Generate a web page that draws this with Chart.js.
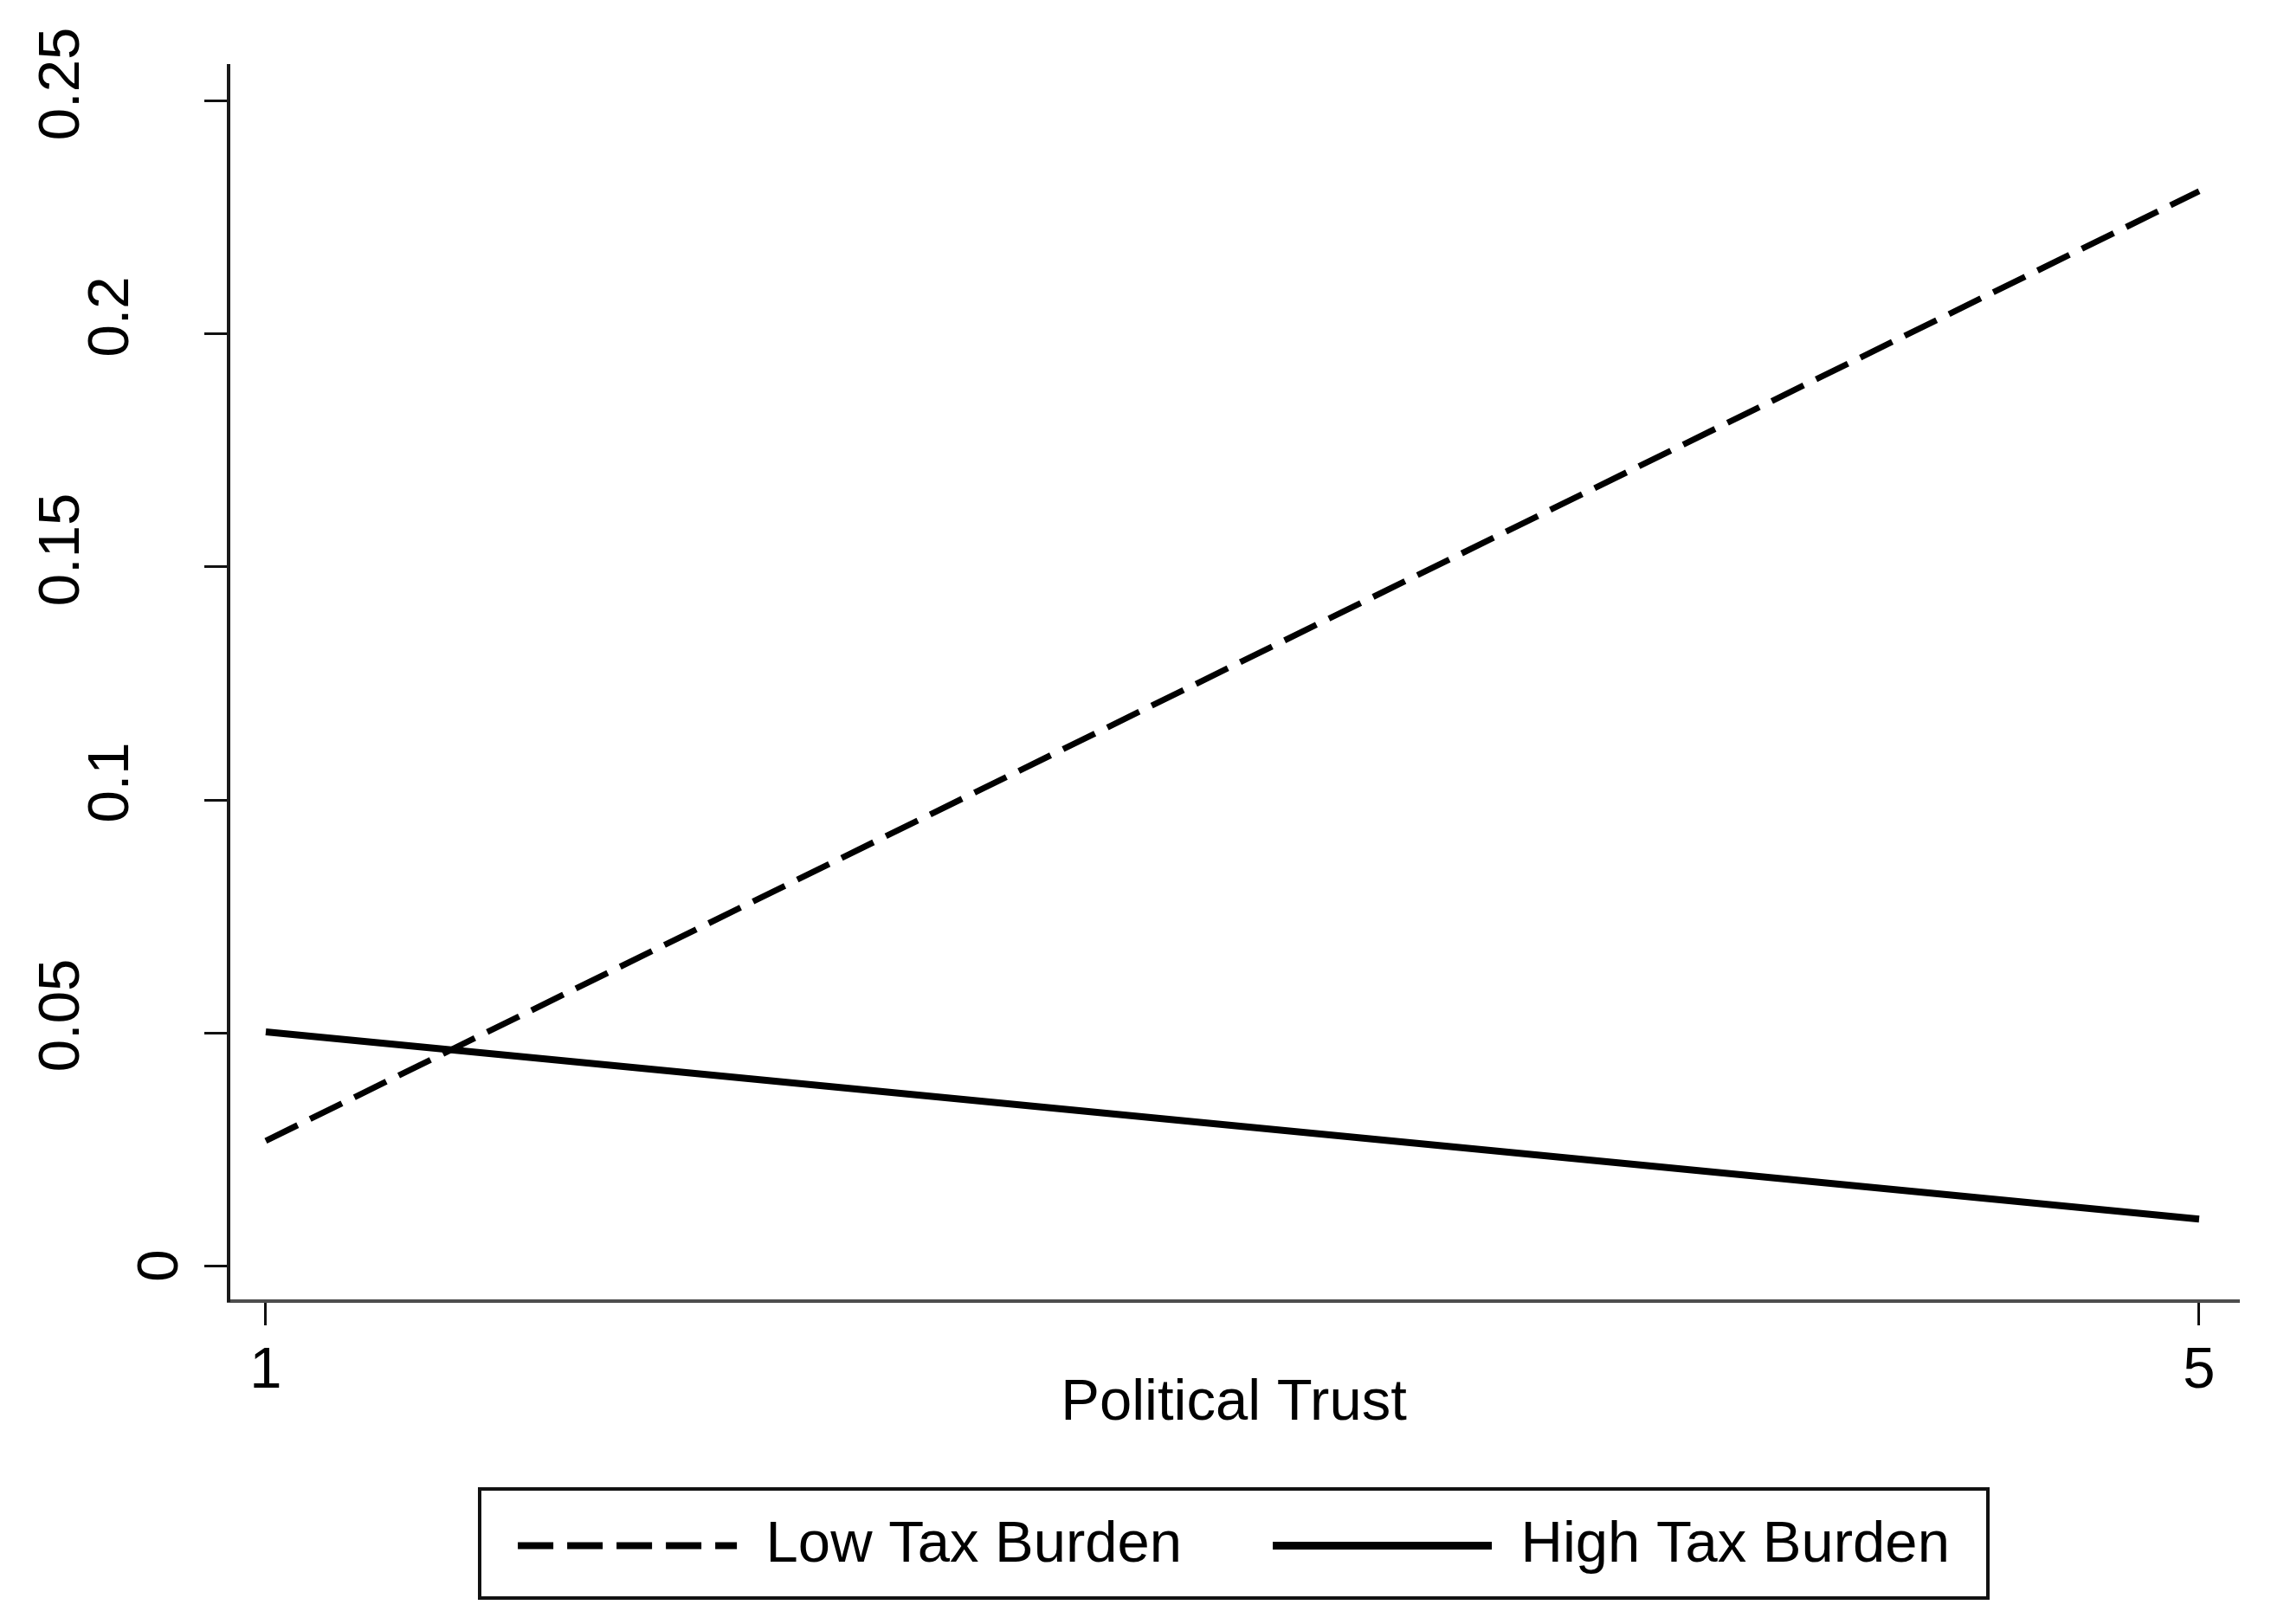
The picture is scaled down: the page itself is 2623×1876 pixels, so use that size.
<!DOCTYPE html>
<html>
<head>
<meta charset="utf-8">
<script src="https://cdn.jsdelivr.net/npm/chart.js@4.4.0/dist/chart.umd.min.js"></script>
<style>
  body { margin: 0; background: #fff; }
  canvas { display: block; }
</style>
</head>
<body>
<canvas id="myChart" width="2623" height="1876"></canvas>
<script>
 const trustLevels = [1, 5];
 const lowTaxBurden = [0.0268, 0.2307];
 const highTaxBurden = [0.0502, 0.0100];
 const xTickValues = [1, 5];
 const yTickValues = [0, 0.05, 0.1, 0.15, 0.2, 0.25];
 const seriesNames = ['Low Tax Burden', 'High Tax Burden'];

 const FONT = '"Liberation Sans", Arial, sans-serif';

 // stata puts the rotated y labels at odd offsets, shorter ones closer to the axis
 const yLabelPlugin = {
   id: 'yLabels',
   afterDraw(chart) {
     const scale = chart.scales.y;
     const ctx = chart.ctx;
     ctx.save();
     ctx.font = '67px ' + FONT;
     ctx.fillStyle = '#000';
     ctx.textAlign = 'center';
     ctx.textBaseline = 'middle';
     yTickValues.forEach(v => {
       const label = String(v);
       const py = scale.getPixelForValue(v);
       const cx = 187 - 57 * Math.max(label.length - 2, 0);
       const cy = py - (label.length > 1 ? 20 : 0);
       ctx.save();
       ctx.translate(cx, cy);
       ctx.rotate(-Math.PI / 2);
       ctx.fillText(label, 0, 0);
       ctx.restore();
     });
     ctx.restore();
   }
 };

 // frame around the legend
 const legendBoxPlugin = {
   id: 'legendBox',
   afterDraw(chart) {
     const lg = chart.legend;
     const ctx = chart.ctx;
     const cx = (lg.left + lg.right) / 2;
     ctx.save();
     ctx.strokeStyle = '#111';
     ctx.lineWidth = 4;
     ctx.strokeRect(cx - 871, lg.top + 73, 1742, 126);
     ctx.restore();
   }
 };

 const ctx = document.getElementById('myChart').getContext('2d');
 const myChart = new Chart(ctx, {
   type: 'line',
   data: {
     datasets: [{
       label: seriesNames[0],
       data: trustLevels.map((x, i) => ({x: x, y: lowTaxBurden[i]})),
       borderColor: '#000',
       borderWidth: 7,
       borderDash: [41, 16],
       borderCapStyle: 'butt',
       pointRadius: 0,
       fill: false
     }, {
       label: seriesNames[1],
       data: trustLevels.map((x, i) => ({x: x, y: highTaxBurden[i]})),
       borderColor: '#000',
       borderWidth: 8,
       borderCapStyle: 'butt',
       pointRadius: 0,
       fill: false
     }]
   },
   options: {
     responsive: false,
     animation: false,
     devicePixelRatio: 1,
     layout: {
       padding: {left: 0, right: 37, top: 76, bottom: 47}
     },
     scales: {
       x: {
         type: 'linear',
         min: 0.923,
         max: 5.0824,
         afterBuildTicks: (scale) => { scale.ticks = xTickValues.map(v => ({value: v})); },
         afterFit: (scale) => { scale.height = 144; },
         grid: {
           drawOnChartArea: false,
           drawTicks: true,
           tickLength: 28,
           tickWidth: 3,
           tickColor: '#111'
         },
         border: {display: true, color: '#4d4d4d', width: 4},
         ticks: {
           color: '#000',
           padding: 20,
           maxRotation: 0,
           font: {family: FONT, size: 67, lineHeight: 1},
           callback: (v) => String(v)
         },
         title: {
           display: true,
           text: 'Political Trust',
           color: '#000',
           padding: 0,
           font: {family: FONT, size: 67, lineHeight: 0.75}
         }
       },
       y: {
         type: 'linear',
         min: -0.00762,
         max: 0.25762,
         afterBuildTicks: (scale) => { scale.ticks = yTickValues.map(v => ({value: v})); },
         afterFit: (scale) => { scale.width = 264; },
         grid: {
           drawOnChartArea: false,
           drawTicks: true,
           tickLength: 28,
           tickWidth: 3,
           tickColor: '#111'
         },
         border: {display: true, color: '#1a1a1a', width: 4},
         ticks: {display: false}
       }
     },
     plugins: {
       legend: {
         display: true,
         position: 'bottom',
         fullSize: false,
         labels: {
           usePointStyle: true,
           pointStyle: 'line',
           pointStyleWidth: 253,
           padding: 105,
           color: '#000',
           font: {family: FONT, size: 67},
           generateLabels: (chart) => {
             const items = Chart.defaults.plugins.legend.labels.generateLabels(chart);
             items.forEach(it => {
               const ds = chart.data.datasets[it.datasetIndex];
               it.lineDash = ds.borderDash || [];
               it.lineWidth = ds.borderWidth + 1;
               it.lineCap = 'butt';
               it.strokeStyle = ds.borderColor;
             });
             return items;
           }
         }
       },
       tooltip: {enabled: false}
     }
   },
   plugins: [yLabelPlugin, legendBoxPlugin]
 });
</script>
</body>
</html>
